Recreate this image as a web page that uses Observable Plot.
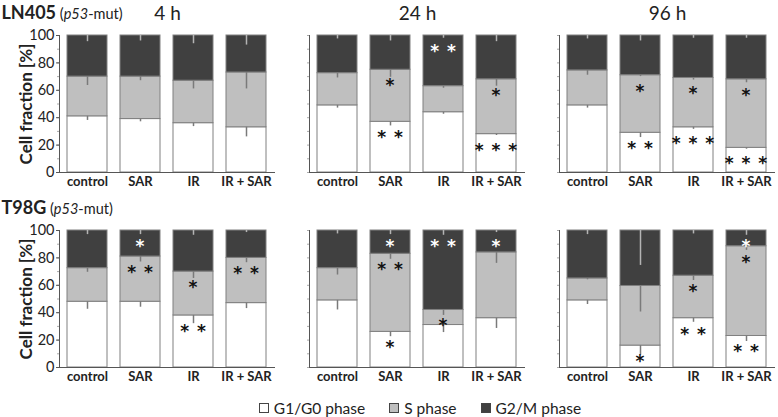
<!DOCTYPE html>
<html><head><meta charset="utf-8">
<script src="https://cdn.jsdelivr.net/npm/d3@7"></script>
<script src="https://cdn.jsdelivr.net/npm/@observablehq/plot@0.6"></script>
<style>
body{margin:0;background:#fff;font-family:Lato,sans-serif;}
#chart svg{display:block;}
.stars text{letter-spacing:1px;}
#legend{display:flex;justify-content:center;align-items:center;gap:24px;margin-top:8px;margin-left:62px;font:15.5px Lato,sans-serif;color:#222;line-height:20px;}
#legend .item{display:flex;align-items:center;gap:5px;}
#legend .sw{width:10px;height:10px;border:1px solid #444;box-sizing:border-box;}
</style></head><body>
<div id="chart"></div>
<div id="legend"></div>
<script>
const cellLines = ["LN405", "T98G"];
const lineSubtitles = ["(p53-mut)", "(p53-mut)"];
const times = ["4 h", "24 h", "96 h"];
const treatments = ["control", "SAR", "IR", "IR + SAR"];
const phases = ["G1/G0 phase", "S phase", "G2/M phase"];
const phaseColors = ["#ffffff", "#bfbfbf", "#404040"];
const yLabel = "Cell fraction [%]";
const yTicks = [0, 20, 40, 60, 80, 100];

// values [cell line][time][treatment]
const g1Values = [
  [[41, 39, 36, 33], [49, 37, 44, 28], [49, 29, 33, 18]],
  [[48, 48, 38, 47], [49, 26, 31, 36], [49, 16, 36, 23]]
];
const sValues = [
  [[29, 31, 31, 40], [23.5, 38, 19, 40], [25.5, 42, 36, 50]],
  [[24.5, 33, 32, 33], [23.5, 57, 11, 48], [16, 43.5, 31, 65.5]]
];
const g2Values = [
  [[30, 30, 33, 27], [27.5, 25, 37, 32], [25.5, 29, 31, 32]],
  [[27.5, 19, 30, 20], [27.5, 17, 58, 16], [35, 40.5, 33, 11.5]]
];
// error bars (drawn downward from the segment top)
const g1Err = [
  [[3, 2, 2.5, 7], [2, 3, 1.5, 1], [2, 3.5, 1.5, 1]],
  [[5.5, 4, 6, 4], [7, 3.5, 5.5, 7.5], [3, 7, 3, 4]]
];
const sErr = [
  [[6.5, 3, 6, 12], [3.5, 5.5, 1.5, 5], [3.5, 1, 1.5, 2.5]],
  [[3, 4, 5, 3.5], [5, 4, 4, 8], [1, 19, 3.5, 3]]
];
const g2Err = [
  [[4.5, 4, 6, 7], [2.5, 4, 2, 4.5], [2.5, 4, 2, 2]],
  [[3, 3, 3.5, 1.5], [2.5, 3, 3.5, 1.5], [3, 25.5, 2.5, 3.5]]
];
// significance marks
const g1Stars = [
  [["", "", "", ""], ["", "**", "", "***"], ["", "**", "***", "***"]],
  [["", "", "**", ""], ["", "*", "", ""], ["", "*", "**", "**"]]
];
const sStars = [
  [["", "", "", ""], ["", "*", "", "*"], ["", "*", "*", "*"]],
  [["", "**", "*", "**"], ["", "**", "*", ""], ["", "", "*", "*"]]
];
const g2Stars = [
  [["", "", "", ""], ["", "", "**", ""], ["", "", "", ""]],
  [["", "*", "", ""], ["", "*", "**", "*"], ["", "", "", "*"]]
];

const valueSets = [g1Values, sValues, g2Values];
const errSets = [g1Err, sErr, g2Err];
const starSets = [g1Stars, sStars, g2Stars];

const rows = [];
cellLines.forEach((line, li) => {
  times.forEach((time, ti) => {
    treatments.forEach((tr, k) => {
      let acc = 0;
      phases.forEach((ph, p) => {
        const v = valueSets[p][li][ti][k];
        rows.push({
          line, time, treatment: tr, phase: ph,
          y1: acc, y2: acc + v, top: acc + v,
          err: errSets[p][li][ti][k],
          star: starSets[p][li][ti][k].split("").join(" ")
        });
        acc += v;
      });
    });
  });
});

const chart = Plot.plot({
  width: 778,
  height: 390,
  marginLeft: 58,
  marginRight: 1,
  marginTop: 34,
  marginBottom: 23,
  style: {fontFamily: "Lato, sans-serif", color: "#222", background: "#fff"},
  fx: {domain: times, paddingInner: 0.135, paddingOuter: 0},
  fy: {domain: cellLines, paddingInner: 0.3, paddingOuter: 0, axis: null},
  x: {domain: treatments, paddingInner: 0.24, paddingOuter: 0.13},
  y: {domain: [0, 100]},
  color: {domain: phases, range: phaseColors},
  marks: [
    Plot.barY(rows, {fx: "time", fy: "line", x: "treatment", y1: "y1", y2: "y2",
      fill: "phase", stroke: "#808080", strokeWidth: 1}),
    Plot.ruleX(rows, {fx: "time", fy: "line", x: "treatment", y1: "top",
      y2: d => d.top - d.err,
      stroke: d => d.phase === phases[2] ? "#b4b4b4" : "#7a7a7a", strokeWidth: 1.5}),
    Plot.text(rows.filter(d => d.star), {fx: "time", fy: "line", x: "treatment", y: "top",
      text: "star", dy: 16, fontSize: 17, fontWeight: "bold", fontFamily: "DejaVu Sans",
      className: "stars",
      fill: d => d.phase === phases[2] ? "#ffffff" : "#111111"}),
    Plot.axisY({ticks: d3.range(0, 101, 10), tickFormat: () => "", tickSize: 2,
      stroke: "#aaa", facetAnchor: null, label: null}),
    Plot.axisY({ticks: yTicks, tickSize: 3, tickPadding: 2, fontSize: 14.5,
      stroke: "#555", label: null}),
    Plot.frame({anchor: "left", stroke: "#555"}),
    Plot.ruleY([0], {stroke: "#555"}),
    Plot.axisX({tickSize: 0, tickPadding: 4, fontSize: 13, fontWeight: "bold",
      facetAnchor: null, label: null}),
    Plot.axisFx({anchor: "top", tickSize: 0, tickPadding: 16, fontSize: 19, label: null}),
    Plot.text(cellLines, {fy: d => d, fx: () => times[0], frameAnchor: "top-left",
      text: (d, i) => d + " " + lineSubtitles[i], dx: -58, dy: -17, lineAnchor: "bottom",
      textAnchor: "start", className: "rowtitle", fontSize: 14.5}),
    Plot.text(cellLines, {fy: d => d, fx: () => times[0], frameAnchor: "left",
      text: () => yLabel, rotate: -90, dx: -33, textAnchor: "middle",
      fontSize: 17, fontWeight: "bold"})
  ]
});
document.getElementById("chart").appendChild(chart);

// rich text for row titles: bold name, italic gene
d3.select(chart).selectAll(".rowtitle text").each(function() {
  const t = d3.select(this);
  const s = t.text();
  const m = s.match(/^(\S+)\s+\((p53)(.*)\)$/);
  if (!m) return;
  t.text(null);
  t.append("tspan").attr("font-weight", "bold").attr("font-size", 18).text(m[1]);
  t.append("tspan").text(" (");
  t.append("tspan").attr("font-style", "italic").text(m[2]);
  t.append("tspan").text(m[3] + ")");
});

const legend = d3.select("#legend");
phases.forEach((ph, i) => {
  const it = legend.append("div").attr("class", "item");
  it.append("div").attr("class", "sw").style("background", phaseColors[i]);
  it.append("span").text(ph);
});
</script>
</body></html>
